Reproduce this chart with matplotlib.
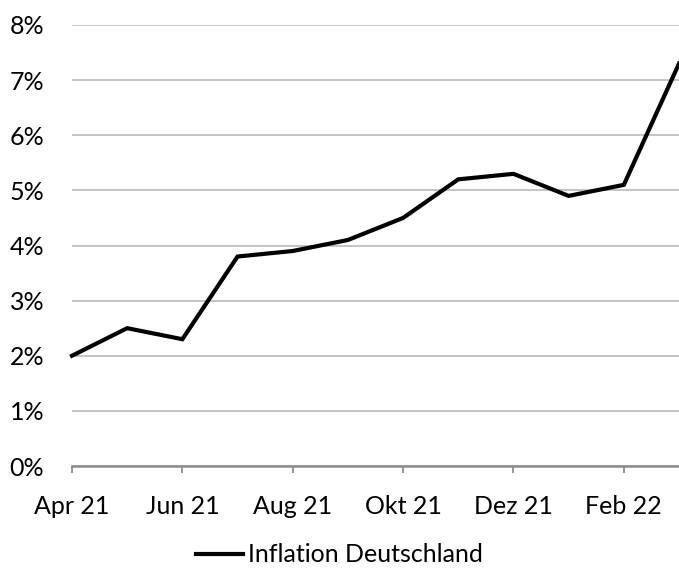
import matplotlib.pyplot as plt
import numpy as np

plt.rcParams['font.family'] = ['Lato', 'DejaVu Sans']

months = ['Apr 21', 'Mai 21', 'Jun 21', 'Jul 21', 'Aug 21', 'Sep 21',
          'Okt 21', 'Nov 21', 'Dez 21', 'Jan 22', 'Feb 22', 'Mär 22']
inflation = [2.0, 2.5, 2.3, 3.8, 3.9, 4.1, 4.5, 5.2, 5.3, 4.9, 5.1, 7.3]
y_ticks = [0, 1, 2, 3, 4, 5, 6, 7, 8]

x = np.arange(len(months))

fig = plt.figure(figsize=(6.79, 5.68), dpi=100)
ax = fig.add_axes([72 / 679, 1 - 466 / 568, 1 - 72 / 679, (466 - 25) / 568])

line, = ax.plot(x, inflation, color='black', linewidth=3, solid_joinstyle='miter',
                label='Inflation Deutschland', clip_on=False)

ax.set_xlim(0, len(months) - 1)
ax.set_ylim(0, 8)
ax.set_yticks(y_ticks)
ax.set_yticklabels([f'{v}%' for v in y_ticks])
ax.set_xticks(x[::2])
ax.set_xticklabels(months[::2])

ax.grid(axis='y', color='#bfbfbf', linewidth=1.3)
ax.set_axisbelow(True)
for s in ['top', 'right', 'left']:
    ax.spines[s].set_visible(False)
ax.spines['bottom'].set_color('#8c8c8c')
ax.spines['bottom'].set_linewidth(1.8)

ax.tick_params(axis='y', length=0, pad=20, labelsize=18)
ax.tick_params(axis='x', length=5, width=1.3, color='#8c8c8c', pad=16, labelsize=18)

fig.legend(handles=[line], loc='center', bbox_to_anchor=(0.5, 1 - 555 / 568),
           frameon=False, fontsize=18, handlelength=1.9, handletextpad=0.2)

fig.savefig('out.png', dpi=100)
